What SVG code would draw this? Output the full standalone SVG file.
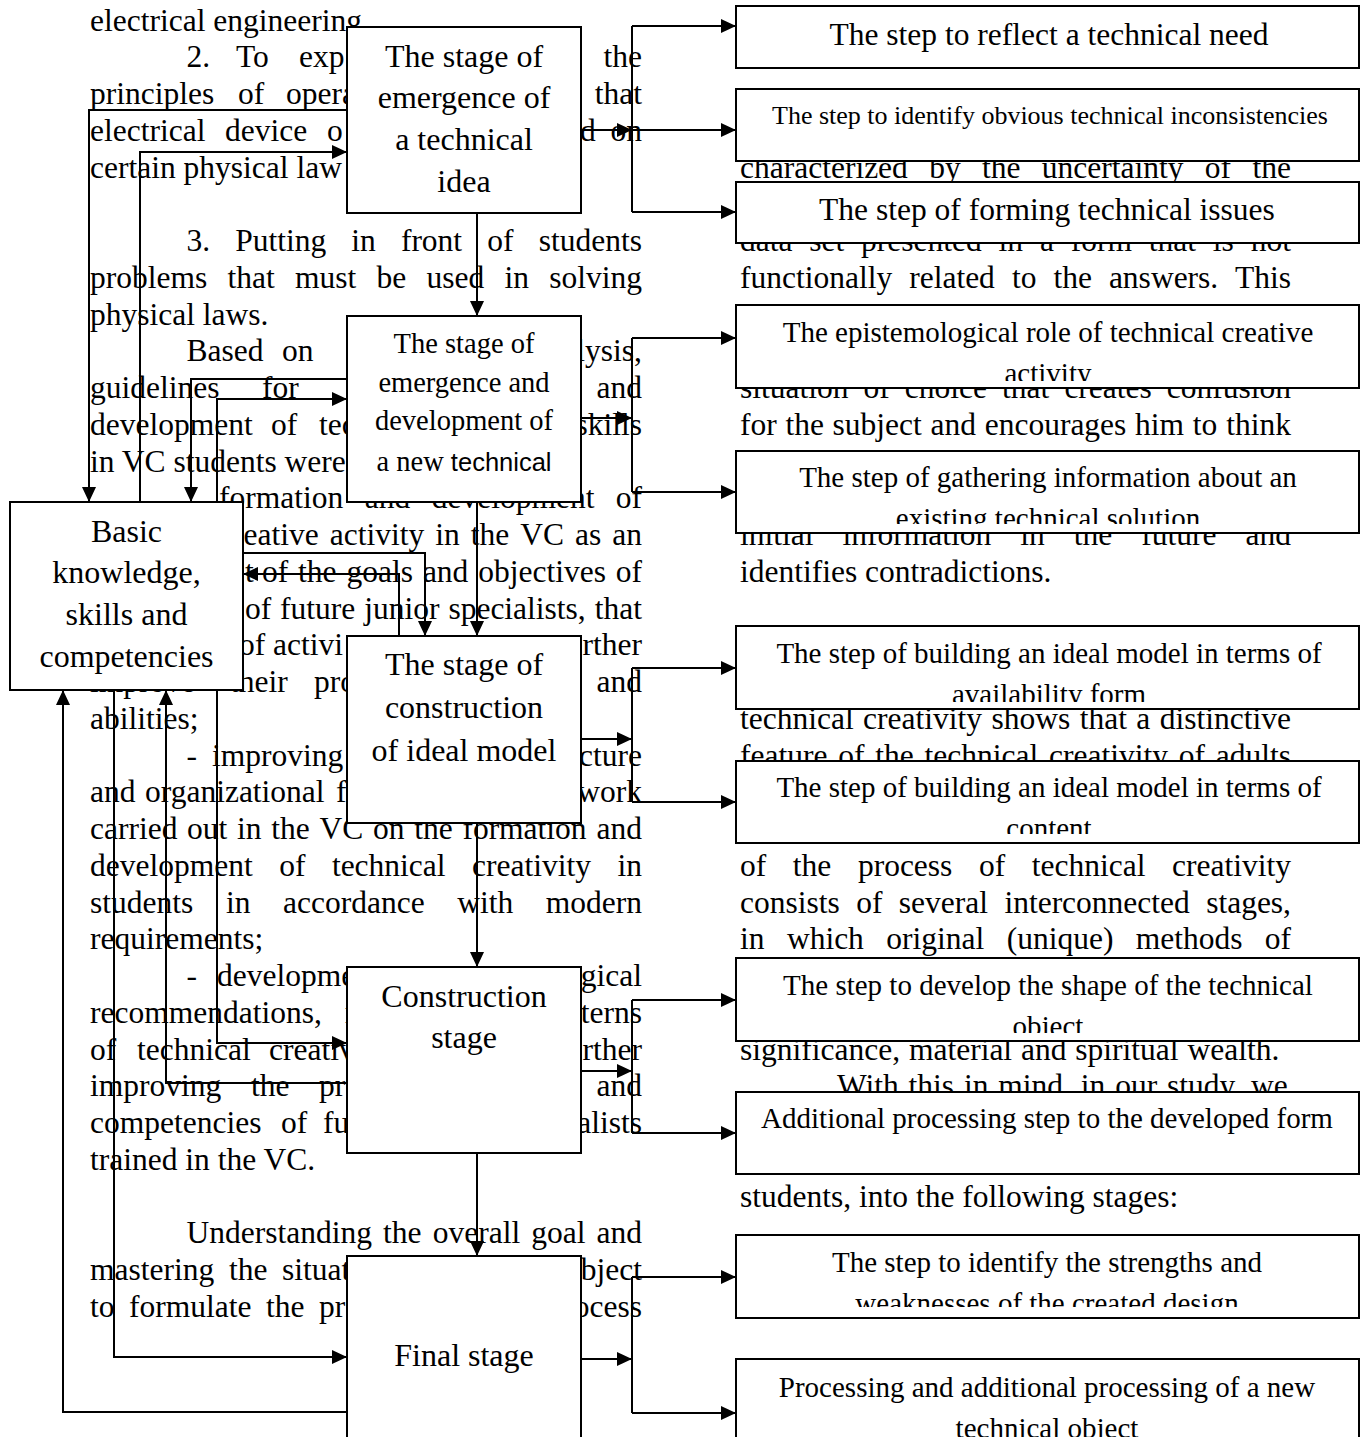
<svg xmlns="http://www.w3.org/2000/svg" width="1364" height="1437" viewBox="0 0 1364 1437">
<style>
.b{font-family:'Liberation Serif','Times New Roman',serif;font-size:31.5px;fill:#000}
.e{text-anchor:end}
.lbl{font-family:'Liberation Serif','Times New Roman',serif;fill:#000;text-anchor:middle}
.sans{font-family:'Liberation Sans',Arial,sans-serif;font-size:25.5px}
.box{fill:#fff;stroke:#000;stroke-width:2}
.f32{font-size:32px}.f285{font-size:28.5px}.f315{font-size:31.5px}.f29{font-size:29px}.f26{font-size:26px}
</style>
<defs>
<marker id="ah" viewBox="0 0 15 14" refX="15" refY="7" markerWidth="15" markerHeight="14" markerUnits="userSpaceOnUse" orient="auto"><path d="M0,0 L15,7 L0,14 z" fill="#000" stroke="none"/></marker>
<clipPath id="cR4"><rect x="736" y="305" width="623" height="76"/></clipPath>
<clipPath id="cR5"><rect x="736" y="451" width="623" height="73"/></clipPath>
<clipPath id="cR6"><rect x="736" y="626" width="623" height="76"/></clipPath>
<clipPath id="cR7"><rect x="736" y="761" width="623" height="73"/></clipPath>
<clipPath id="cR8"><rect x="736" y="958" width="623" height="75"/></clipPath>
<clipPath id="cR10"><rect x="736" y="1235" width="623" height="72"/></clipPath>
</defs>
<rect width="1364" height="1437" fill="#fff"/>

<g id="page-text" class="b">
<text x="90" y="30.5">electrical engineering</text>
<text y="67.3"><tspan x="186.5">2.</tspan><tspan x="236">To</tspan><tspan x="299">exp</tspan></text><text class="e" x="642" y="67.3">the</text>
<text y="104"><tspan x="90">principles</tspan><tspan x="238">of</tspan><tspan x="286">opera</tspan></text><text class="e" x="642" y="104">that</text>
<text y="140.8"><tspan x="90">electrical</tspan><tspan x="225">device</tspan><tspan x="327">o</tspan><tspan x="580">d</tspan></text><text class="e" x="642" y="140.8">on</text>
<text x="90" y="177.5">certain physical law</text>
<text y="251"><tspan x="186.5">3.</tspan><tspan x="235.2">Putting</tspan><tspan x="351.3">in</tspan><tspan x="400.9">front</tspan><tspan x="487.2">of</tspan></text><text class="e" x="642" y="251">students</text>
<text y="287.8"><tspan x="90">problems</tspan><tspan x="227.5">that</tspan><tspan x="295">must</tspan><tspan x="376.6">be</tspan><tspan x="426.6">used</tspan><tspan x="504.6">in</tspan></text><text class="e" x="642" y="287.8">solving</text>
<text x="90" y="324.5">physical laws.</text>
<text y="361.3"><tspan x="186.5">Based</tspan><tspan x="282">on</tspan></text><text class="e" x="642" y="361.3">lysis,</text>
<text y="398"><tspan x="90">guidelines</tspan><tspan x="262">for</tspan></text><text class="e" x="642" y="398">and</text>
<text y="434.8"><tspan x="90">development</tspan><tspan x="271">of</tspan><tspan x="319">tec</tspan></text><text class="e" x="642" y="434.8">skills</text>
<text x="90" y="471.5">in VC students were</text>
<text y="508.3"><tspan x="219">formation</tspan><tspan x="364.7">and</tspan><tspan x="431.7">development</tspan></text><text class="e" x="642" y="508.3">of</text>
<text y="545"><tspan x="219">creative</tspan><tspan x="329.7">activity</tspan><tspan x="435.2">in</tspan><tspan x="470.7">the</tspan><tspan x="520.2">VC</tspan><tspan x="575">as</tspan></text><text class="e" x="642" y="545">an</text>
<text y="581.8"><tspan x="245">t</tspan><tspan x="262">of</tspan><tspan x="298.1">the</tspan><tspan x="346.5">goals</tspan><tspan x="422.9">and</tspan><tspan x="478.3">objectives</tspan></text><text class="e" x="642" y="581.8">of</text>
<text y="618.5"><tspan x="245">of</tspan><tspan x="280.1">future</tspan><tspan x="364.2">junior</tspan><tspan x="448.4">specialists,</tspan></text><text class="e" x="642" y="618.5">that</text>
<text y="655.3"><tspan x="239">of</tspan><tspan x="273">activi</tspan></text><text class="e" x="642" y="655.3">rther</text>
<text y="692"><tspan x="90">improve</tspan><tspan x="230">their</tspan><tspan x="314">pro</tspan></text><text class="e" x="642" y="692">and</text>
<text x="90" y="728.8">abilities;</text>
<text y="765.5"><tspan x="186.5">-</tspan><tspan x="212">improving</tspan></text><text class="e" x="642" y="765.5">cture</text>
<text y="802.3"><tspan x="90">and</tspan><tspan x="145">organizational</tspan><tspan x="336">f</tspan></text><text class="e" x="642" y="802.3">work</text>
<text y="839"><tspan x="90">carried</tspan><tspan x="187.1">out</tspan><tspan x="237.1">in</tspan><tspan x="271.3">the</tspan><tspan x="319.5">VC</tspan><tspan x="373">on</tspan><tspan x="414.2">the</tspan><tspan x="462.4">formation</tspan></text><text class="e" x="642" y="839">and</text>
<text y="875.8"><tspan x="90">development</tspan><tspan x="279.2">of</tspan><tspan x="331.9">technical</tspan><tspan x="472.1">creativity</tspan></text><text class="e" x="642" y="875.8">in</text>
<text y="912.5"><tspan x="90">students</tspan><tspan x="225.9">in</tspan><tspan x="283">accordance</tspan><tspan x="457.3">with</tspan></text><text class="e" x="642" y="912.5">modern</text>
<text x="90" y="949.3">requirements;</text>
<text y="986"><tspan x="186.5">-</tspan><tspan x="217">developme</tspan></text><text class="e" x="642" y="986">gical</text>
<text y="1022.8"><tspan x="90">recommendations,</tspan><tspan x="345">r</tspan></text><text class="e" x="642" y="1022.8">terns</text>
<text y="1059.5"><tspan x="90">of</tspan><tspan x="137">technical</tspan><tspan x="269">creativ</tspan></text><text class="e" x="642" y="1059.5">rther</text>
<text y="1096.3"><tspan x="90">improving</tspan><tspan x="251">the</tspan><tspan x="319">pr</tspan></text><text class="e" x="642" y="1096.3">and</text>
<text y="1133"><tspan x="90">competencies</tspan><tspan x="281">of</tspan><tspan x="323">fu</tspan></text><text class="e" x="642" y="1133">alists</text>
<text x="90" y="1169.8">trained in the VC.</text>
<text y="1243.3"><tspan x="186.5">Understanding</tspan><tspan x="383.1">the</tspan><tspan x="432.7">overall</tspan><tspan x="531.3">goal</tspan></text><text class="e" x="642" y="1243.3">and</text>
<text y="1280"><tspan x="90">mastering</tspan><tspan x="229">the</tspan><tspan x="282">situat</tspan></text><text class="e" x="642" y="1280">bject</text>
<text y="1316.8"><tspan x="90">to</tspan><tspan x="129">formulate</tspan><tspan x="266">the</tspan><tspan x="319">pr</tspan></text><text class="e" x="642" y="1316.8">ocess</text>

<text y="177.5"><tspan x="740">characterized</tspan><tspan x="929.2">by</tspan><tspan x="982">the</tspan><tspan x="1041.8">uncertainty</tspan><tspan x="1204.8">of</tspan></text><text class="e" x="1291" y="177.5">the</text>
<text y="251"><tspan x="740">data</tspan><tspan x="809.3">set</tspan><tspan x="861.1">presented</tspan><tspan x="998.6">in</tspan><tspan x="1039.9">a</tspan><tspan x="1070.7">form</tspan><tspan x="1148.7">that</tspan><tspan x="1212.8">is</tspan></text><text class="e" x="1291" y="251">not</text>
<text y="287.8"><tspan x="740">functionally</tspan><tspan x="909.2">related</tspan><tspan x="1011.9">to</tspan><tspan x="1053.4">the</tspan><tspan x="1108.9">answers.</tspan></text><text class="e" x="1291" y="287.8">This</text>
<text y="398"><tspan x="740">situation</tspan><tspan x="863.6">of</tspan><tspan x="904.8">choice</tspan><tspan x="1002">that</tspan><tspan x="1064.4">creates</tspan></text><text class="e" x="1291" y="398">confusion</text>
<text y="434.8"><tspan x="740">for</tspan><tspan x="785.4">the</tspan><tspan x="832.6">subject</tspan><tspan x="930.5">and</tspan><tspan x="984.7">encourages</tspan><tspan x="1135.1">him</tspan><tspan x="1192.8">to</tspan></text><text class="e" x="1291" y="434.8">think</text>
<text y="545"><tspan x="740">initial</tspan><tspan x="842.5">information</tspan><tspan x="1020.2">in</tspan><tspan x="1073.7">the</tspan><tspan x="1141.2">future</tspan></text><text class="e" x="1291" y="545">and</text>
<text x="740" y="581.8">identifies contradictions.</text>
<text y="728.8"><tspan x="740">technical</tspan><tspan x="863.1">creativity</tspan><tspan x="991.5">shows</tspan><tspan x="1079.7">that</tspan><tspan x="1136.3">a</tspan></text><text class="e" x="1291" y="728.8">distinctive</text>
<text y="765.5"><tspan x="740">feature</tspan><tspan x="838.2">of</tspan><tspan x="875.2">the</tspan><tspan x="924.5">technical</tspan><tspan x="1049">creativity</tspan><tspan x="1178.8">of</tspan></text><text class="e" x="1291" y="765.5">adults</text>
<text y="875.8"><tspan x="740">of</tspan><tspan x="792.8">the</tspan><tspan x="857.9">process</tspan><tspan x="979">of</tspan><tspan x="1031.8">technical</tspan></text><text class="e" x="1291" y="875.8">creativity</text>
<text y="912.5"><tspan x="740">consists</tspan><tspan x="856.2">of</tspan><tspan x="898.8">several</tspan><tspan x="1004.4">interconnected</tspan></text><text class="e" x="1291" y="912.5">stages,</text>
<text y="949.3"><tspan x="740">in</tspan><tspan x="786.9">which</tspan><tspan x="886.3">original</tspan><tspan x="1006.7">(unique)</tspan><tspan x="1135.8">methods</tspan></text><text class="e" x="1291" y="949.3">of</text>
<text x="740" y="1059.5" word-spacing="1">significance, material and spiritual wealth.</text>
<text x="837" y="1096.3" word-spacing="2">With this in mind, in our study, we</text>
<text x="740" y="1206.5">students, into the following stages:</text>
</g>

<g id="connectors" fill="none" stroke="#000" stroke-width="2">
<path d="M581,130H632" marker-end="url(#ah)"/>
<path d="M632,26V212"/>
<path d="M632,26H736" marker-end="url(#ah)"/>
<path d="M632,130H736" marker-end="url(#ah)"/>
<path d="M632,212H736" marker-end="url(#ah)"/>
<path d="M581,418H632" marker-end="url(#ah)"/>
<path d="M632,338V492"/>
<path d="M632,338H736" marker-end="url(#ah)"/>
<path d="M632,492H736" marker-end="url(#ah)"/>
<path d="M581,739H632" marker-end="url(#ah)"/>
<path d="M632,668V802"/>
<path d="M632,668H736" marker-end="url(#ah)"/>
<path d="M632,802H736" marker-end="url(#ah)"/>
<path d="M581,1071H632" marker-end="url(#ah)"/>
<path d="M632,1000V1133"/>
<path d="M632,1000H736" marker-end="url(#ah)"/>
<path d="M632,1133H736" marker-end="url(#ah)"/>
<path d="M581,1359H632" marker-end="url(#ah)"/>
<path d="M632,1277V1413"/>
<path d="M632,1277H736" marker-end="url(#ah)"/>
<path d="M632,1413H736" marker-end="url(#ah)"/>
<path d="M477,213V316" marker-end="url(#ah)"/>
<path d="M477,502V636" marker-end="url(#ah)"/>
<path d="M477,823V967" marker-end="url(#ah)"/>
<path d="M477,1153V1256" marker-end="url(#ah)"/>
<path d="M347,110H89V502" marker-end="url(#ah)"/>
<path d="M140,502V152H347" marker-end="url(#ah)"/>
<path d="M347,379H191V502" marker-end="url(#ah)"/>
<path d="M217,502V399H347" marker-end="url(#ah)"/>
<path d="M243,553H425V636" marker-end="url(#ah)"/>
<path d="M399,636V574H243" marker-end="url(#ah)"/>
<path d="M347,1083H166V690" marker-end="url(#ah)"/>
<path d="M217,690V1043H347" marker-end="url(#ah)"/>
<path d="M347,1412H63V690" marker-end="url(#ah)"/>
<path d="M114,690V1357H347" marker-end="url(#ah)"/>
</g>

<g id="stage-idea"><rect class="box" x="347" y="27" width="234" height="186"/>
<text class="lbl f32"><tspan x="464" y="67">The stage of</tspan><tspan x="464" y="108">emergence of</tspan><tspan x="464" y="150">a technical</tspan><tspan x="464" y="192">idea</tspan></text></g>
<g id="stage-development"><rect class="box" x="347" y="316" width="234" height="186"/>
<text class="lbl f285"><tspan x="464" y="353">The stage of</tspan><tspan x="464" y="392">emergence and</tspan><tspan x="464" y="430">development of</tspan><tspan x="464" y="470.5">a new <tspan class="sans">technical</tspan></tspan></text></g>
<g id="stage-ideal-model"><rect class="box" x="347" y="636" width="234" height="187"/>
<text class="lbl f32"><tspan x="464" y="675">The stage of</tspan><tspan x="464" y="718">construction</tspan><tspan x="464" y="760.5">of ideal model</tspan></text></g>
<g id="stage-construction"><rect class="box" x="347" y="967" width="234" height="186"/>
<text class="lbl f32"><tspan x="464" y="1007">Construction</tspan><tspan x="464" y="1048">stage</tspan></text></g>
<g id="stage-final"><rect class="box" x="347" y="1256" width="234" height="200"/>
<text class="lbl f32" x="464" y="1366">Final stage</text></g>
<g id="basic"><rect class="box" x="10" y="502" width="233" height="188"/>
<text class="lbl f32"><tspan x="126.5" y="542">Basic</tspan><tspan x="126.5" y="583">knowledge,</tspan><tspan x="126.5" y="625">skills and</tspan><tspan x="126.5" y="667">competencies</tspan></text></g>

<g id="step-need"><rect class="box" x="736" y="6" width="623" height="62"/>
<text class="lbl f315" x="1049" y="45">The step to reflect a technical need</text></g>
<g id="step-inconsistencies"><rect class="box" x="736" y="89" width="623" height="72"/>
<text class="lbl f26" x="1050" y="124">The step to identify obvious technical inconsistencies</text></g>
<g id="step-issues"><rect class="box" x="736" y="182" width="623" height="61"/>
<text class="lbl f315" x="1047" y="220">The step of forming technical issues</text></g>
<g id="step-epistemological"><rect class="box" x="736" y="305" width="623" height="83"/>
<text class="lbl f29" clip-path="url(#cR4)"><tspan x="1048" y="342">The epistemological role of technical creative</tspan><tspan x="1048" y="383">activity</tspan></text></g>
<g id="step-gathering"><rect class="box" x="736" y="451" width="623" height="82"/>
<text class="lbl f29" clip-path="url(#cR5)"><tspan x="1048" y="487">The step of gathering information about an</tspan><tspan x="1048" y="528">existing technical solution</tspan></text></g>
<g id="step-ideal-form"><rect class="box" x="736" y="626" width="623" height="83"/>
<text class="lbl f29" clip-path="url(#cR6)"><tspan x="1049" y="663">The step of building an ideal model in terms of</tspan><tspan x="1049" y="704">availability form</tspan></text></g>
<g id="step-ideal-content"><rect class="box" x="736" y="761" width="623" height="82"/>
<text class="lbl f29" clip-path="url(#cR7)"><tspan x="1049" y="797">The step of building an ideal model in terms of</tspan><tspan x="1049" y="838">content</tspan></text></g>
<g id="step-shape"><rect class="box" x="736" y="958" width="623" height="83"/>
<text class="lbl f29" clip-path="url(#cR8)"><tspan x="1048" y="995">The step to develop the shape of the technical</tspan><tspan x="1048" y="1036">object</tspan></text></g>
<g id="step-additional"><rect class="box" x="736" y="1092" width="623" height="82"/>
<text class="lbl f29" x="1047" y="1128">Additional processing step to the developed form</text></g>
<g id="step-strengths"><rect class="box" x="736" y="1235" width="623" height="83"/>
<text class="lbl f29" clip-path="url(#cR10)"><tspan x="1047" y="1272">The step to identify the strengths and</tspan><tspan x="1047" y="1313">weaknesses of the created design</tspan></text></g>
<g id="step-processing"><rect class="box" x="736" y="1359" width="623" height="100"/>
<text class="lbl f29"><tspan x="1047" y="1397">Processing and additional processing of a new</tspan><tspan x="1047" y="1438">technical object</tspan></text></g>
</svg>
